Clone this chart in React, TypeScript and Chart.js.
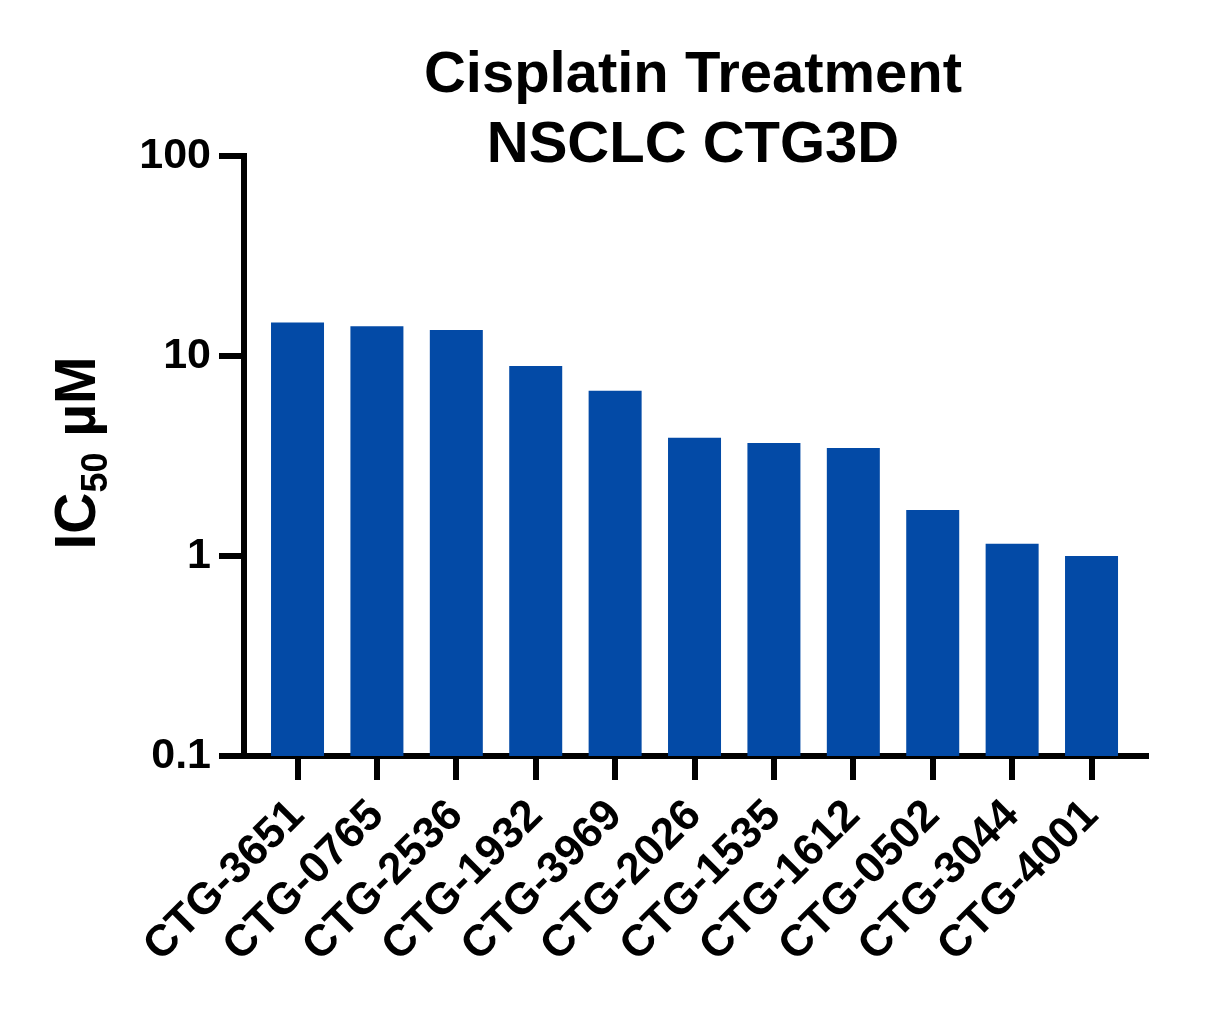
import React, { useEffect, useRef } from 'react';
import { Chart, registerables } from 'chart.js';

Chart.register(...registerables);

const FONT = '"Liberation Sans", Arial, Helvetica, sans-serif';

const titleLines = ['Cisplatin Treatment', 'NSCLC CTG3D'];
const categories = [
  'CTG-3651', 'CTG-0765', 'CTG-2536', 'CTG-1932', 'CTG-3969', 'CTG-2026',
  'CTG-1535', 'CTG-1612', 'CTG-0502', 'CTG-3044', 'CTG-4001',
];
const ic50Values = [14.7, 14.1, 13.5, 8.9, 6.7, 3.9, 3.67, 3.47, 1.7, 1.15, 1.0];
const yTickValues = [0.1, 1, 10, 100];
const yLabelMain = 'IC';
const yLabelSub = '50';
const yLabelUnit = ' µM';
const barColor = '#034AA6';

const annotatePlugin = {
  id: 'annotate',
  afterDraw(chart: any) {
    const { ctx, chartArea } = chart;
    ctx.save();
    ctx.fillStyle = '#000';
    ctx.textBaseline = 'alphabetic';
    ctx.textAlign = 'center';
    ctx.font = `bold 58px ${FONT}`;
    const cx = (chartArea.left + chartArea.right) / 2 - 2;
    ctx.fillText(titleLines[0], cx, chartArea.top - 64);
    ctx.fillText(titleLines[1], cx, chartArea.top + 6);

    ctx.translate(chartArea.left - 149, (chartArea.top + chartArea.bottom) / 2 - 3);
    ctx.rotate(-Math.PI / 2);
    const mainFont = `bold 57px ${FONT}`;
    const subFont = `bold 36px ${FONT}`;
    ctx.font = mainFont;
    const w1 = ctx.measureText(yLabelMain).width;
    const w3 = ctx.measureText(yLabelUnit).width;
    ctx.font = subFont;
    const w2 = ctx.measureText(yLabelSub).width;
    let x = -(w1 + w2 + w3) / 2;
    ctx.textAlign = 'left';
    ctx.font = mainFont;
    ctx.fillText(yLabelMain, x, 0);
    x += w1;
    ctx.font = subFont;
    ctx.fillText(yLabelSub, x, 12);
    x += w2;
    ctx.font = mainFont;
    ctx.fillText(yLabelUnit, x, 0);
    ctx.restore();
  },
};

export default function App() {
  const canvasRef = useRef<HTMLCanvasElement | null>(null);

  useEffect(() => {
    if (!canvasRef.current) return;
    const chart = new Chart(canvasRef.current, {
      type: 'bar',
      data: {
        datasets: [
          {
            data: ic50Values.map((v, i) => ({ x: i, y: v })),
            backgroundColor: barColor,
            borderWidth: 0,
            barPercentage: 0.6675,
            categoryPercentage: 1,
          },
        ],
      },
      options: {
        responsive: false,
        animation: false,
        layout: { padding: { top: 156, right: 80, left: 0, bottom: 0 } },
        plugins: {
          legend: { display: false },
          title: { display: false },
          tooltip: { enabled: false },
        },
        scales: {
          x: {
            type: 'linear',
            offset: false,
            min: -0.674,
            max: 10.686,
            afterBuildTicks: (axis: any) => {
              axis.ticks = categories.map((_, i) => ({ value: i }));
            },
            afterFit: (axis: any) => {
              axis.height = 255;
            },
            ticks: {
              autoSkip: false,
              maxRotation: 45,
              minRotation: 45,
              padding: 10,
              color: '#000',
              font: { family: FONT, size: 44, weight: 'bold' },
              callback: (value: any) => categories[value] ?? '',
            },
            grid: {
              display: true,
              offset: false,
              drawOnChartArea: false,
              drawTicks: true,
              tickLength: 24,
              tickWidth: 6,
              tickColor: '#000',
              lineWidth: 6,
              color: '#000',
            },
            border: { display: true, width: 6, color: '#000' },
          },
          y: {
            type: 'logarithmic',
            min: 0.1,
            max: 100,
            afterBuildTicks: (axis: any) => {
              axis.ticks = yTickValues.map((v) => ({ value: v }));
            },
            afterFit: (axis: any) => {
              axis.width = 244;
            },
            ticks: {
              padding: 8,
              color: '#000',
              font: { family: FONT, size: 43, weight: 'bold' },
              callback: (value: any) => String(value),
            },
            grid: {
              display: true,
              drawOnChartArea: false,
              drawTicks: true,
              tickLength: 25,
              tickWidth: 6,
              tickColor: '#000',
              lineWidth: 6,
              color: '#000',
            },
            border: { display: true, width: 6, color: '#000' },
          },
        },
      } as any,
      plugins: [annotatePlugin],
    });
    return () => chart.destroy();
  }, []);

  return (
    <div style={{ position: 'absolute', left: 0, top: 0, width: 1226, height: 1011, background: '#fff' }}>
      <canvas ref={canvasRef} width={1226} height={1011} style={{ display: 'block' }} />
    </div>
  );
}
